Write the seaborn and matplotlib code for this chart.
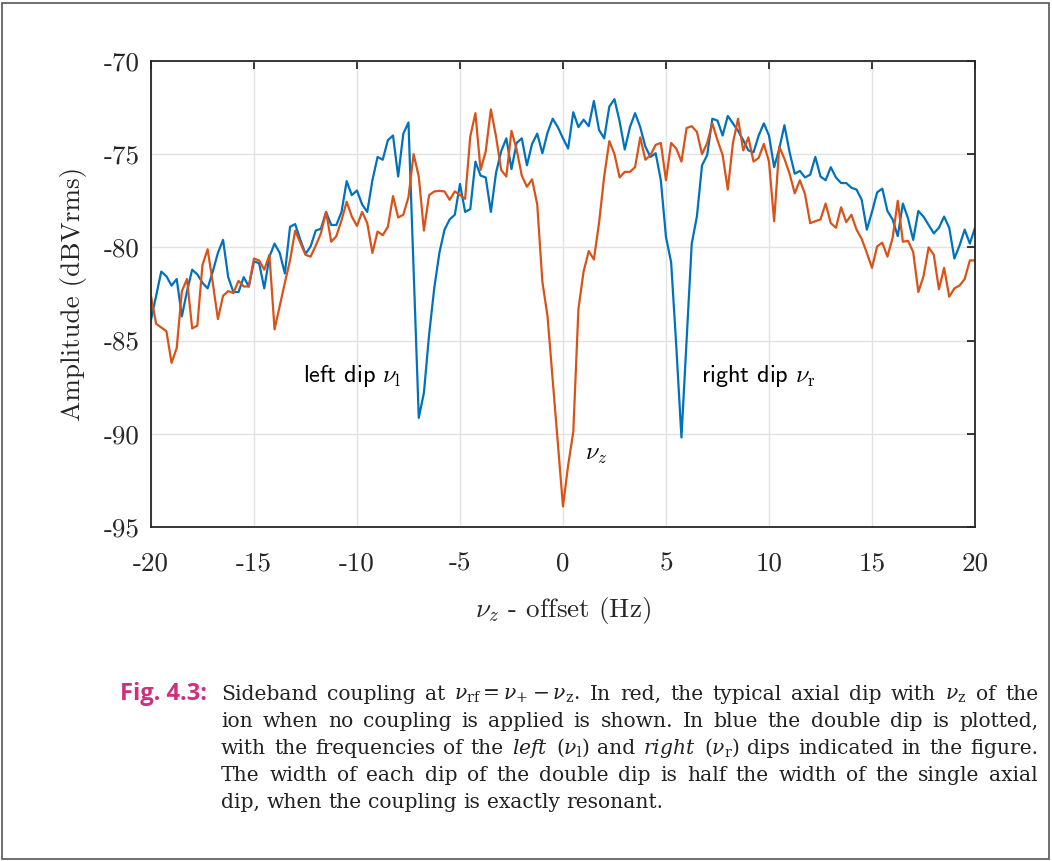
import numpy as np
import pandas as pd
import matplotlib.pyplot as plt
import seaborn as sns
from matplotlib.patches import Rectangle

# frequency sweep, 0.25 Hz steps around the axial frequency
offset_hz = np.arange(-20, 20.001, 0.25)

# blue: double dip (sideband coupling on)
coupled_db = [
    -83.9, -82.6, -81.3, -81.55, -82.05, -81.7, -83.7, -82.35, -81.2, -81.45,
    -81.9, -82.2, -81.3, -80.3, -79.6, -81.6, -82.4, -82.4, -81.6, -82.1,
    -80.75, -80.85, -82.2, -80.5, -79.8, -80.3, -81.4, -78.9, -78.75, -79.6,
    -80.35, -79.95, -79.1, -79.0, -78.1, -78.8, -78.8, -78.1, -76.45, -77.2,
    -76.95, -77.7, -78.1, -76.4, -75.15, -75.3, -74.25, -74.0, -76.2, -73.9,
    -73.3, -81.3, -89.15, -87.8, -84.7, -82.2, -80.3, -79.05, -78.5, -78.25,
    -76.6, -78.1, -77.95, -75.4, -76.15, -76.25, -78.1, -76.0, -74.85, -74.15,
    -75.8, -74.4, -74.15, -75.6, -74.45, -73.9, -74.95, -73.85, -73.1, -73.55,
    -74.15, -74.7, -72.75, -73.55, -73.15, -73.5, -72.15, -73.7, -74.15, -72.45,
    -72.05, -73.25, -74.75, -73.55, -72.8, -73.55, -74.6, -75.15, -74.95, -76.4,
    -79.45, -80.8, -85.3, -90.2, -85.0, -79.8, -78.35, -75.6, -75.05, -73.1,
    -73.2, -74.0, -72.95, -73.35, -73.75, -74.25, -74.8, -74.9, -74.0, -73.35,
    -74.0, -75.7, -74.7, -73.45, -74.9, -76.05, -75.9, -76.25, -76.1, -75.15,
    -76.2, -76.4, -75.7, -76.25, -76.55, -76.55, -76.8, -76.9, -77.45, -79.05,
    -78.1, -77.05, -76.85, -78.05, -78.5, -79.4, -77.65, -78.45, -79.6, -78.05,
    -78.35, -78.8, -79.25, -78.95, -78.35, -78.95, -80.6, -79.9, -79.05, -79.8,
    -78.95,
]

# red: single axial dip (no coupling)
uncoupled_db = [
    -82.6, -84.1, -84.3, -84.5, -86.2, -85.4, -82.35, -81.7, -84.35, -84.2,
    -80.95, -80.1, -81.9, -83.85, -82.6, -82.35, -82.45, -81.8, -82.1, -82.1,
    -80.6, -80.7, -81.2, -80.4, -84.4, -83.15, -81.9, -80.7, -79.1, -79.75,
    -80.4, -80.5, -79.9, -79.25, -78.1, -79.7, -79.4, -78.55, -77.55, -78.35,
    -78.85, -78.1, -78.7, -80.3, -79.15, -79.35, -78.9, -77.25, -78.4, -78.25,
    -77.3, -75.0, -76.2, -79.1, -77.2, -77.0, -76.97, -77.0, -77.45, -77.0,
    -77.2, -77.4, -74.05, -72.8, -75.85, -74.85, -72.6, -74.05, -75.85, -76.2,
    -73.75, -74.75, -76.15, -76.75, -76.35, -77.7, -81.85, -83.7, -87.1, -90.5,
    -93.9, -91.7, -89.9, -83.3, -81.3, -80.2, -80.65, -78.7, -76.2, -74.3,
    -75.0, -76.25, -75.95, -75.95, -75.7, -74.1, -75.3, -75.05, -74.5, -74.4,
    -76.4, -74.4, -74.7, -75.4, -73.6, -73.5, -73.8, -75.0, -74.4, -73.35,
    -74.25, -75.05, -76.9, -74.4, -73.1, -74.8, -74.1, -75.4, -75.2, -74.45,
    -75.4, -78.6, -74.6, -75.25, -76.05, -77.1, -76.4, -77.15, -78.7, -78.6,
    -78.5, -77.65, -78.7, -78.95, -77.85, -78.65, -78.25, -79.05, -79.55, -80.3,
    -81.1, -79.95, -79.75, -80.5, -79.5, -77.5, -79.7, -79.65, -80.25, -82.4,
    -81.55, -80.0, -80.4, -82.25, -81.1, -82.65, -82.2, -82.05, -81.7, -80.7,
    -80.7,
]

x_ticks = [-20, -15, -10, -5, 0, 5, 10, 15, 20]
y_ticks = [-95, -90, -85, -80, -75, -70]

caption_lines = [
    r"Sideband coupling at $\nu_{\mathrm{rf}}=\nu_{+}-\nu_{\mathrm{z}}$. In red, the typical axial dip with $\nu_{\mathrm{z}}$ of the",
    "ion when no coupling is applied is shown. In blue the double dip is plotted,",
    r"with the frequencies of the $\mathit{left}$ ($\nu_{\mathrm{l}}$) and $\mathit{right}$ ($\nu_{\mathrm{r}}$) dips indicated in the figure.",
    "The width of each dip of the double dip is half the width of the single axial",
    "dip, when the coupling is exactly resonant.",
]

df = pd.concat([
    pd.DataFrame({"offset": offset_hz, "amp": coupled_db, "trace": "coupled"}),
    pd.DataFrame({"offset": offset_hz, "amp": uncoupled_db, "trace": "single"}),
], ignore_index=True)

sns.set_style("white")
plt.rcParams["font.family"] = ["cmr10", "DejaVu Serif"]
plt.rcParams["mathtext.fontset"] = "cm"
plt.rcParams["axes.unicode_minus"] = False
plt.rcParams["axes.formatter.use_mathtext"] = False

fig = plt.figure(figsize=(10.52, 8.61), dpi=100)
ax = fig.add_axes([0.1435, 0.388, 0.7833, 0.5412])

sns.lineplot(data=df, x="offset", y="amp", hue="trace",
             palette={"coupled": "#0072BD", "single": "#D95319"},
             hue_order=["coupled", "single"], legend=False,
             errorbar=None, sort=False, lw=1.6, ax=ax)

ax.set_xlim(-20, 20)
ax.set_ylim(-95, -70)
ax.set_xticks(x_ticks)
ax.set_yticks(y_ticks)
ax.set_xticklabels([str(v) for v in x_ticks])
ax.set_yticklabels([str(v) for v in y_ticks])
ax.grid(True, color="#e2e2e2", lw=1.0)
ax.set_axisbelow(True)
for sp in ax.spines.values():
    sp.set_color("#262626")
    sp.set_linewidth(1.3)
ax.tick_params(direction="in", length=6, width=1.3, color="#262626",
               top=True, right=True, labelsize=19.5, labelcolor="#262626")
ax.tick_params(axis="x", pad=18)
ax.tick_params(axis="y", pad=8)
ax.set_xlabel(r"$\nu_z$ - offset (Hz)", fontsize=19.5, labelpad=14, color="#262626")
ax.set_ylabel("Amplitude (dBVrms)", fontsize=19.5, labelpad=12, color="#262626")

ann = dict(fontsize=17.5, family="cmss10", math_fontfamily="cm", color="black")
ax.text(-12.6, -87.25, r"left dip $\nu_{\mathrm{l}}$", ha="left", va="baseline", **ann)
ax.text(6.7, -87.25, r"right dip $\nu_{\mathrm{r}}$", ha="left", va="baseline", **ann)
ax.text(1.05, -91.4, r"$\nu_z$", ha="left", va="baseline", **ann)

fig.text(120 / 1052, 1 - 700 / 861, "Fig. 4.3:", fontsize=17, family="Open Sans",
         weight="bold", color="#d12e7f", ha="left", va="baseline")

# caption, justified between x=221 and x=1038 px (last line ragged)
cap_style = dict(fontsize=14.6, family="DejaVu Serif", math_fontfamily="dejavuserif",
                 color="#222222", ha="left", va="baseline")
renderer = fig.canvas.get_renderer()
fig_w = fig.bbox.width
left_px, right_px = 221, 1038
for i, line in enumerate(caption_lines):
    y = 1 - (700 + 27 * i) / 861
    words = line.split(" ")
    texts = [fig.text(0, y, w, **cap_style) for w in words]
    widths = [t.get_window_extent(renderer).width for t in texts]
    if i < len(caption_lines) - 1:
        gap = (right_px - left_px - sum(widths)) / (len(words) - 1)
    else:
        gap = fig.text(0, 0, "a b", **cap_style).get_window_extent(renderer).width
        gap -= fig.text(0, 0, "ab", **cap_style).get_window_extent(renderer).width
        for t in fig.texts[-2:]:
            t.remove()
    x = left_px
    for t, w in zip(texts, widths):
        t.set_x(x / fig_w)
        x += w + gap

fig.add_artist(Rectangle((0.002, 0.002), 0.995, 0.995, transform=fig.transFigure,
                         fill=False, ec="#555555", lw=1.2))

fig.savefig("out.png", dpi=100)
